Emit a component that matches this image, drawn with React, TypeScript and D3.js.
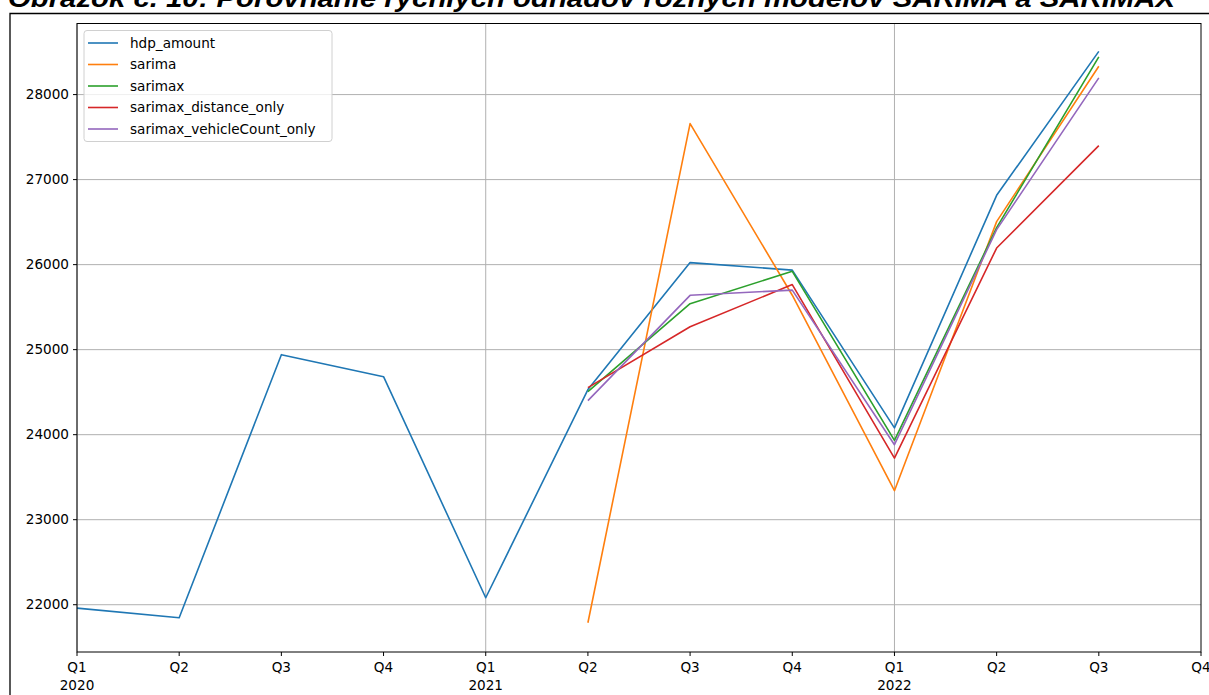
import React from "react";
import * as d3 from "d3";

const quarters = ["Q1","Q2","Q3","Q4","Q1","Q2","Q3","Q4","Q1","Q2","Q3","Q4"];
const years = ["2020","","","","2021","","","","2022","","",""];
const yTicks = [22000, 23000, 24000, 25000, 26000, 27000, 28000];

// index 0 = Q1 2020
const hdpAmount: (number | null)[] = [21960, 21847, 24941, 24682, 22082, 24530, 26024, 25935, 24080, 26815, 28508, null];
const sarima: (number | null)[] = [null, null, null, null, null, 21788, 27659, 25640, 23341, 26506, 28333, null];
const sarimax: (number | null)[] = [null, null, null, null, null, 24506, 25541, 25921, 23933, 26435, 28443, null];
const sarimaxDistance: (number | null)[] = [null, null, null, null, null, 24553, 25270, 25765, 23725, 26195, 27400, null];
const sarimaxVehicle: (number | null)[] = [null, null, null, null, null, 24400, 25639, 25700, 23882, 26412, 28196, null];

const series = [
  { name: "hdp_amount", values: hdpAmount, color: "#1f77b4" },
  { name: "sarima", values: sarima, color: "#ff7f0e" },
  { name: "sarimax", values: sarimax, color: "#2ca02c" },
  { name: "sarimax_distance_only", values: sarimaxDistance, color: "#d62728" },
  { name: "sarimax_vehicleCount_only", values: sarimaxVehicle, color: "#9467bd" },
];

const title = "Obrázok č. 10: Porovnanie rýchlych odhadov rôznych modelov SARIMA a SARIMAX";

export default function App() {
  const W = 1209, H = 695;
  const left = 77, right = 1201, top = 23.5, bottom = 652;
  const x = d3.scaleLinear().domain([0, 11]).range([left, right]);
  const y = d3.scaleLinear().domain([21444, 28836]).range([bottom, top]);
  const line = d3.line<number | null>()
    .defined((d) => d !== null)
    .x((_, i) => x(i))
    .y((d) => y(d as number));
  const font = "DejaVu Sans, sans-serif";
  const fs = 13.6;

  return (
    <svg width={W} height={H} style={{ position: "absolute", left: 0, top: 0, background: "#fff" }}>
      <rect x={0} y={0} width={W} height={H} fill="#fff" />
      <text x={8} y={7} fontFamily="Liberation Sans, Arial, sans-serif" fontWeight="bold" fontStyle="italic"
        fontSize={25} textLength={1167} lengthAdjust="spacingAndGlyphs" fill="#000">{title}</text>
      <path d={`M10,${H + 5} L10,13.5 L${W + 5},13.5`} fill="none" stroke="#000" strokeWidth={1.3} />
      {/* grid */}
      {quarters.map((_, i) => (i % 4 === 0 ? (
        <line key={"gx" + i} x1={x(i)} x2={x(i)} y1={top} y2={bottom} stroke="#b0b0b0" strokeWidth={1} />
      ) : null))}
      {yTicks.map((t) => (
        <line key={"gy" + t} x1={left} x2={right} y1={y(t)} y2={y(t)} stroke="#b0b0b0" strokeWidth={1} />
      ))}
      {/* series */}
      {series.map((s) => (
        <path key={s.name} d={line(s.values) || ""} fill="none" stroke={s.color} strokeWidth={1.6} strokeLinejoin="round" />
      ))}
      {/* axes box */}
      <rect x={left} y={top} width={right - left} height={bottom - top} fill="none" stroke="#000" strokeWidth={1} />
      {/* y ticks */}
      {yTicks.map((t) => (
        <g key={"yt" + t}>
          <line x1={left - 4} x2={left} y1={y(t)} y2={y(t)} stroke="#000" strokeWidth={1} />
          <text x={left - 8} y={y(t)} dy="0.35em" textAnchor="end" fontFamily={font} fontSize={fs} fill="#000">{t}</text>
        </g>
      ))}
      {/* x ticks */}
      {quarters.map((q, i) => (
        <g key={"xt" + i}>
          <line x1={x(i)} x2={x(i)} y1={bottom} y2={bottom + 4} stroke="#000" strokeWidth={1} />
          <text x={x(i)} y={bottom + 20} textAnchor="middle" fontFamily={font} fontSize={fs} fill="#000">{q}</text>
          {years[i] ? (
            <text x={x(i)} y={bottom + 38} textAnchor="middle" fontFamily={font} fontSize={fs} fill="#000">{years[i]}</text>
          ) : null}
        </g>
      ))}
      {/* legend */}
      <rect x={84} y={30.5} width={248} height={111} rx={3} fill="#fff" fillOpacity={0.8} stroke="#d0d0d0" strokeWidth={1} />
      {series.map((s, i) => (
        <g key={"lg" + s.name}>
          <line x1={88} x2={118} y1={43 + i * 21.5} y2={43 + i * 21.5} stroke={s.color} strokeWidth={1.6} />
          <text x={130} y={43 + i * 21.5} dy="0.35em" fontFamily={font} fontSize={fs} fill="#000">{s.name}</text>
        </g>
      ))}
    </svg>
  );
}
